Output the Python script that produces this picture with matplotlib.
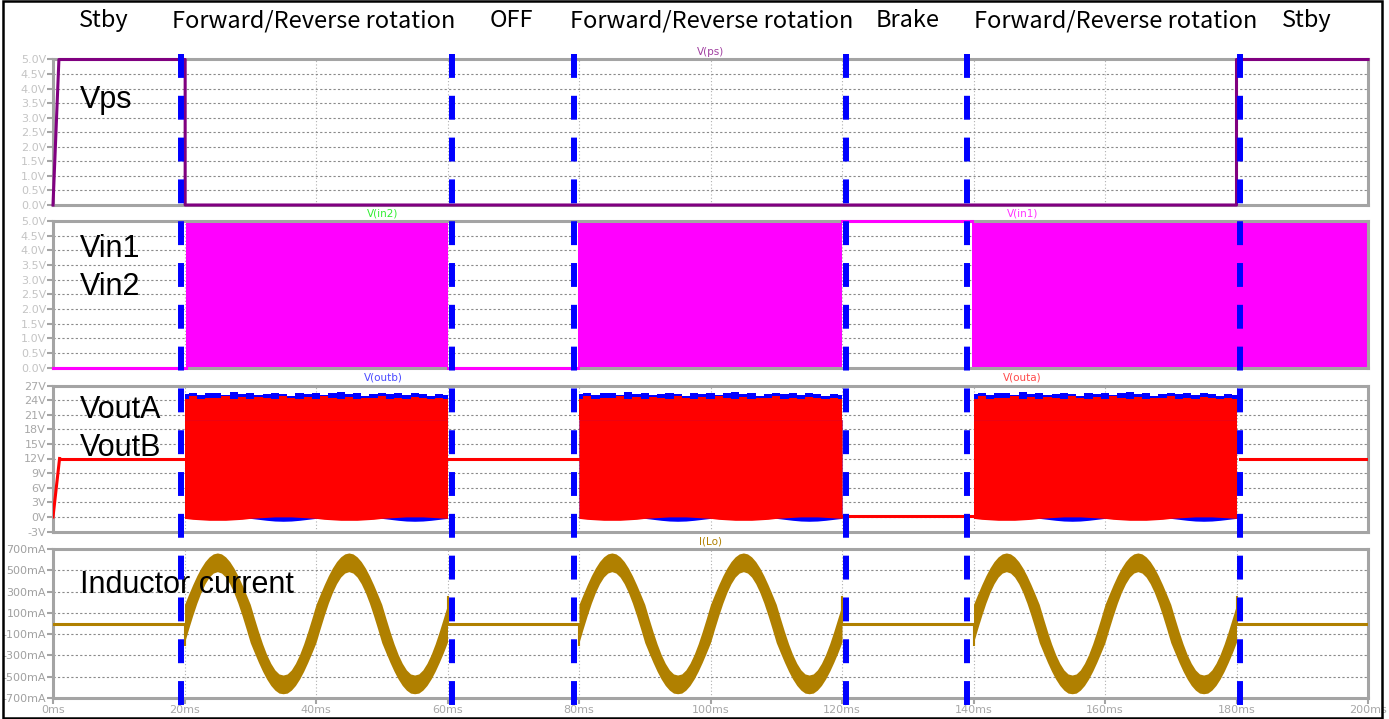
import matplotlib
matplotlib.use("Agg")
import matplotlib.pyplot as plt
import numpy as np

# ---------------- data (time in ms) ----------------
sections = ["Stby", "Forward/Reverse rotation", "OFF", "Forward/Reverse rotation",
            "Brake", "Forward/Reverse rotation", "Stby"]
phase_edges = [20, 60, 80, 120, 140, 180]
edge_shift = [-0.55, 0.65, -0.8, 0.55, -1.0, 0.5]   # marker lines were drawn by hand
drive_starts = [20, 80, 140]

x_ticks = [0, 20, 40, 60, 80, 100, 120, 140, 160, 180, 200]
x_labels = ["0ms", "20ms", "40ms", "60ms", "80ms", "100ms", "120ms",
            "140ms", "160ms", "180ms", "200ms"]
v5_ticks = [0.0, 0.5, 1.0, 1.5, 2.0, 2.5, 3.0, 3.5, 4.0, 4.5, 5.0]
v5_labels = ["0.0V", "0.5V", "1.0V", "1.5V", "2.0V", "2.5V", "3.0V",
             "3.5V", "4.0V", "4.5V", "5.0V"]
vout_ticks = [-3, 0, 3, 6, 9, 12, 15, 18, 21, 24, 27]
vout_labels = ["-3V", "0V", "3V", "6V", "9V", "12V", "15V", "18V", "21V", "24V", "27V"]
il_ticks = [-700, -500, -300, -100, 100, 300, 500, 700]
il_labels = ["-700mA", "-500mA", "-300mA", "-100mA", "100mA", "300mA", "500mA", "700mA"]

# V(ps)
vps_t = [0.0, 0.9, 20.1, 20.1, 180.0, 180.0, 200.0]
vps_v = [0.0, 5.0, 5.0, 0.0, 0.0, 5.0, 5.0]

# V(in1)/V(in2): PWM bursts (0..5 V) and idle levels
vin_pwm = [(20.2, 60.1), (79.9, 120.0), (139.8, 200.0)]
vin_idle = [(0.0, 20.2, 0.0), (60.1, 79.9, 0.0), (120.0, 139.8, 5.0)]

# V(outa)/V(outb) idle parts
vout_ramp_t = [0.0, 1.0]
vout_ramp_v = [0.0, 12.0]
vout_idle = [(1.0, 20.2, 12.0), (60.0, 80.0, 12.0), (120.0, 140.0, 0.1), (180.5, 200.0, 12.0)]

# one 40 ms drive burst of V(out), read every 1.25 ms
burst_t = np.arange(0, 40.01, 1.25)
outa_top = [24.3, 24.8, 24.2, 24.5, 24.4, 24.9, 24.3, 24.6, 24.2, 24.7, 24.4, 24.3, 24.9, 24.4, 24.2,
            24.6, 24.3, 24.8, 24.4, 24.2, 24.7, 24.3, 24.5, 24.4, 24.8, 24.2, 24.5, 24.3, 24.7, 24.4,
            24.3, 24.5, 24.2]
outb_top = [25.3, 25.5, 25.1, 25.4, 25.5, 25.0, 25.6, 25.2, 25.4, 25.0, 25.3, 25.5, 25.2, 24.9, 25.4,
            25.3, 25.5, 25.1, 25.4, 25.6, 25.2, 25.4, 24.9, 25.3, 25.5, 25.2, 25.4, 25.0, 25.5, 25.3,
            24.9, 25.3, 25.1]
outa_lo = [-0.3, -0.5, -0.6, -0.7, -0.7, -0.7, -0.6, -0.5, -0.3, -0.2, -0.1, 0.0, 0.0, 0.0, -0.1, -0.2,
           -0.3, -0.5, -0.6, -0.7, -0.7, -0.7, -0.6, -0.5, -0.3, -0.2, -0.1, 0.0, 0.0, 0.0, -0.1, -0.2, -0.3]
outb_lo = [-0.2, -0.2, -0.2, -0.2, -0.2, -0.2, -0.2, -0.2, -0.3, -0.5, -0.7, -0.85, -0.9, -0.85, -0.7, -0.5,
           -0.3, -0.2, -0.2, -0.2, -0.2, -0.2, -0.2, -0.2, -0.3, -0.5, -0.7, -0.85, -0.9, -0.85, -0.7, -0.5, -0.3]

# I(Lo): one 20 ms cycle read every 0.625 ms (centre of band and half band width, mA)
il_cycle_mid = [0, 112, 220, 320, 407, 478, 531, 564, 575, 564, 531, 478, 407, 320, 220, 112,
                0, -112, -220, -320, -407, -478, -531, -564, -572, -564, -531, -478, -407, -320, -220, -112]
il_cycle_rip = [180, 162, 145, 129, 115, 104, 95, 90, 88, 90, 95, 104, 115, 129, 145, 162,
                180, 162, 145, 129, 115, 104, 95, 90, 88, 90, 95, 104, 115, 129, 145, 162]
il_end = (0, 175)
il_kick = (-200, 250)   # spikes at burst start / end
il_idle = [(0.0, 20.0, 0.0), (60.0, 80.0, 0.0), (120.0, 140.0, 0.0), (180.0, 200.0, 0.0)]

# ---------------- layout ----------------
W, H = 1389, 719
L, R = 53, 1368
panel_px = [(59.5, 205), (221, 367.5), (385.5, 531.5), (549, 698)]

grey = "#a4a4a4"
purple = "#800080"
magenta = "#ff00ff"
gold = "#b08000"

fig = plt.figure(figsize=(W / 100, H / 100), dpi=100)


def box(top, bottom):
    return [L / W, 1 - bottom / H, (R - L) / W, (bottom - top) / H]


def style(ax, ticks, labels, lim, lab_col):
    ax.set_xlim(0, 200)
    ax.set_ylim(*lim)
    ax.set_yticks(ticks)
    ax.set_yticklabels(labels)
    ax.set_xticks(x_ticks)
    for s in ax.spines.values():
        s.set_color(grey)
        s.set_linewidth(2.2)
    ax.tick_params(axis="y", direction="out", length=4.5, width=1.5, color=grey,
                   labelcolor=lab_col, labelsize=8, pad=0.5)
    ax.tick_params(axis="x", direction="out", length=0, labelbottom=False)
    ax.yaxis.grid(True, color="#8a8a8a", lw=0.8, ls=(0, (2, 2)))
    ax.xaxis.grid(True, color="#b0b0b0", lw=0.8, ls=(0, (1, 2)))
    ax.set_axisbelow(True)


def name(ax, txt, xf, col):
    ax.annotate(txt, xy=(xf, 1), xycoords="axes fraction", xytext=(0, 5.5),
                textcoords="offset points", ha="center", va="center",
                fontsize=7.5, color=col)


def big(ax, txt, below_px):
    ax.annotate(txt, xy=(0, 1), xycoords="axes fraction",
                xytext=(27 * 0.72, -below_px * 0.72), textcoords="offset points",
                ha="left", va="baseline", fontsize=22, color="black",
                family="Liberation Sans")


axs = [fig.add_axes(box(*p)) for p in panel_px]

# panel 1: V(ps)
ax = axs[0]
style(ax, v5_ticks, v5_labels, (0, 5), "#c4c4c4")
ax.plot(vps_t, vps_v, color=purple, lw=2.2, clip_on=False, zorder=3)
name(ax, "V(ps)", 0.5, "#a040a0")
big(ax, "Vps", 48.5)

# panel 2: V(in1), V(in2)
ax = axs[1]
style(ax, v5_ticks, v5_labels, (0, 5), "#c4c4c4")
for a, b in vin_pwm:
    ax.fill_between([a, b], 0, 5, color=magenta, lw=0, zorder=2)
for a, b, v in vin_idle:
    ax.plot([a, b], [v, v], color=magenta, lw=2.2, clip_on=False, zorder=3)
name(ax, "V(in2)", 0.251, "#33ee33")
name(ax, "V(in1)", 0.737, "#ff33ff")
big(ax, "Vin1", 36)
big(ax, "Vin2", 74)

# panel 3: V(outa), V(outb)
ax = axs[2]
style(ax, vout_ticks, vout_labels, (-3, 27), "#a8a8a8")
for t0 in drive_starts:
    tt = burst_t + t0
    ax.fill_between(tt, outb_lo, 20, color="#0000ff", lw=0, zorder=2)
    ax.fill_between(tt, 20, outb_top, color="#0000ff", lw=0, step="mid", zorder=2)
    ax.fill_between(tt, outa_lo, 20, color="#ff0000", lw=0, zorder=2.5)
    ax.fill_between(tt, 19.9, outa_top, color="#ff0000", lw=0, step="mid", zorder=2.5)
ax.plot(vout_ramp_t, vout_ramp_v, color="#ff0000", lw=2.2, zorder=3)
for a, b, v in vout_idle:
    ax.plot([a, b], [v, v], color="#ff0000", lw=2.2, zorder=3)
name(ax, "V(outb)", 0.251, "#4a4aff")
name(ax, "V(outa)", 0.737, "#ff4a4a")
big(ax, "VoutA", 32)
big(ax, "VoutB", 70.5)

# panel 4: I(Lo)
ax = axs[3]
style(ax, il_ticks, il_labels, (-700, 700), "#a0a0a0")
ax.tick_params(axis="x", direction="out", length=4, width=1.5, color=grey,
               labelbottom=True, labelcolor="#a8a8a8", labelsize=8, pad=1)
ax.set_xticklabels(x_labels)
mid = np.array(il_cycle_mid * 2 + [il_end[0]])
rip = np.array(il_cycle_rip * 2 + [il_end[1]])
il_t = np.arange(len(mid)) * 0.625
for t0 in drive_starts:
    tt = il_t + t0
    ax.fill_between(tt, mid - rip, mid + rip, color=gold, lw=0, zorder=2)
    ax.plot([t0, t0], [il_kick[0], 0], color=gold, lw=1.5, zorder=2)
    ax.plot([t0 + 40, t0 + 40], [0, il_kick[1]], color=gold, lw=1.5, zorder=2)
for a, b, v in il_idle:
    ax.plot([a, b], [v, v], color=gold, lw=2.2, zorder=3)
name(ax, "I(Lo)", 0.5, "#b08000")
big(ax, "Inductor current", 44)

# blue phase markers across all panels
ov = fig.add_axes([L / W, 1 - 705 / H, (R - L) / W, (705 - 54) / H])
ov.set_zorder(10)
ov.set_xlim(0, 200)
ov.set_ylim(0, 1)
ov.axis("off")
for t, d in zip(phase_edges, edge_shift):
    ov.plot([t + d, t + d], [1, 0], color="#0000ff", lw=4.3, dashes=(4, 3),
            solid_capstyle="butt", dash_capstyle="butt")

# phase names on top
sec_x = [104, 314, 511, 711.5, 908, 1115.5, 1307]
for txt, xp in zip(sections, sec_x):
    fig.text(xp / W, 1 - 27 / H, txt, ha="center", va="baseline", fontsize=17,
             family=["Noto Sans CJK JP", "DejaVu Sans"], color="black")

# black frame around the picture
fig.add_artist(plt.Rectangle((3.5 / W, 1 / H), (1381.5 - 3.5) / W, (718 - 1) / H,
                             transform=fig.transFigure, fill=False, ec="black", lw=1.8))

fig.savefig("out.png", dpi=100)
